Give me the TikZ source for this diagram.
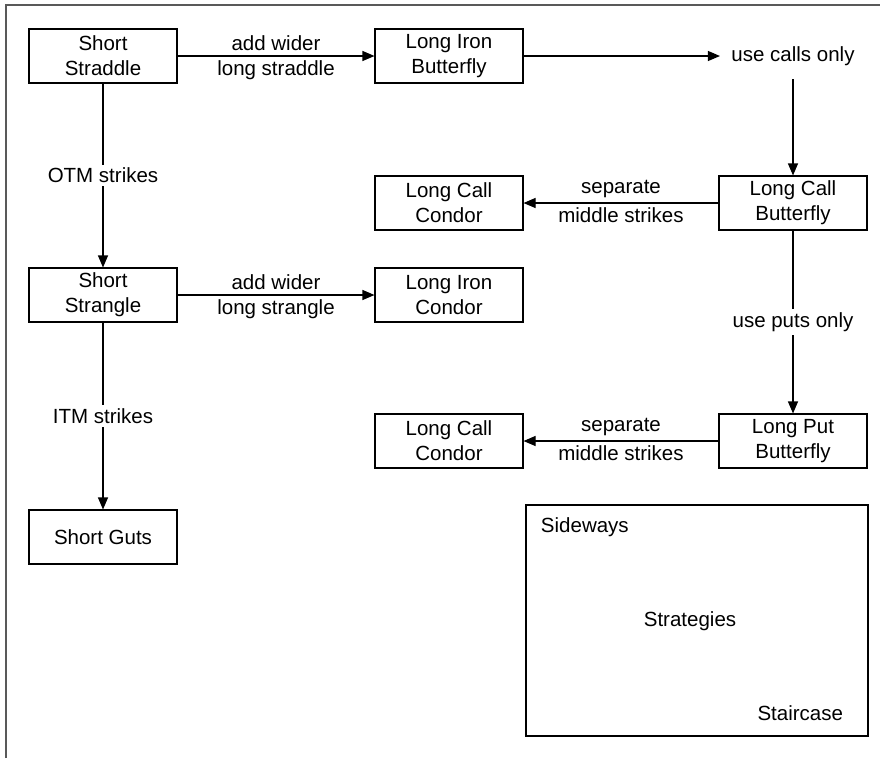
\documentclass[tikz,border=0pt]{standalone}
\usepackage{fontspec}
\setmainfont{Liberation Sans}
\usetikzlibrary{positioning, arrows.meta}

\tikzset{
    stratbox/.style={draw, line width=1.1pt, minimum width=148pt, minimum height=54pt,
                     align=center, inner sep=2pt},
    flow/.style={line width=1.1pt, -{Triangle[length=12pt, width=10pt]}},
    onpath/.style={fill=white, inner sep=3pt},
    every node/.style={font=\fontsize{20.5}{25}\selectfont}
}

\begin{document}
\begin{tikzpicture}[x=1pt, y=-1pt]
    \useasboundingbox (0,0) rectangle (886,758);
    % outer frame (open at right and bottom)
    \draw[line width=2pt, black!65] (6,758) -- (6,5) -- (880,5);

    % left column
    \node[stratbox] (straddle) at (103,56)  {Short\\Straddle};
    \node[stratbox] (strangle) at (103,295) {Short\\Strangle};
    \node[stratbox] (guts)     at (103,537) {Short Guts};

    % middle column
    \node[stratbox] (ironfly)    at (449,56)  {Long Iron\\Butterfly};
    \node[stratbox] (callcondor) at (449,203) {Long Call\\Condor};
    \node[stratbox] (ironcondor) at (449,295) {Long Iron\\Condor};
    \node[stratbox] (putcondor)  at (449,441) {Long Call\\Condor};

    % right column
    \node (calls) at (793,56) {use calls only};
    \node[stratbox] (callfly) at (793,203) {Long Call\\Butterfly};
    \node[stratbox] (putfly)  at (793,441) {Long Put\\Butterfly};

    % sideways group
    \node[draw, line width=1.1pt, minimum width=342pt, minimum height=231pt] (sideways) at (697,620.5) {};
    \node[anchor=west] (sidewaystxt) at ([xshift=12pt, yshift=-23pt]sideways.north west) {Sideways};
    \node (strategiestxt) at (690,621) {Strategies};
    \node[anchor=east] (staircasetxt) at ([xshift=-22pt, yshift=23pt]sideways.south east) {Staircase};

    % horizontal connectors
    \draw[flow] (straddle) -- node[above=1pt] {add wider} node[below=1pt] {long straddle} (ironfly);
    \draw[flow] (strangle) -- node[above=1pt] {add wider} node[below=1pt] {long strangle} (ironcondor);
    \draw[flow] (ironfly) -- ([xshift=-8pt]calls.west);
    \draw[flow] (callfly) -- node[above=1pt] {separate} node[below=1pt] {middle strikes} (callcondor);
    \draw[flow] (putfly) -- node[above=1pt] {separate} node[below=1pt] {middle strikes} (putcondor);

    % vertical connectors
    \draw[flow] (straddle) -- node[onpath] {OTM strikes} (strangle);
    \draw[flow] (strangle) -- node[onpath] {ITM strikes} (guts);
    \draw[flow] ([yshift=-10pt]calls.south) -- (callfly);
    \draw[flow] (callfly) -- node[onpath] {use puts only} (putfly);
\end{tikzpicture}
\end{document}
